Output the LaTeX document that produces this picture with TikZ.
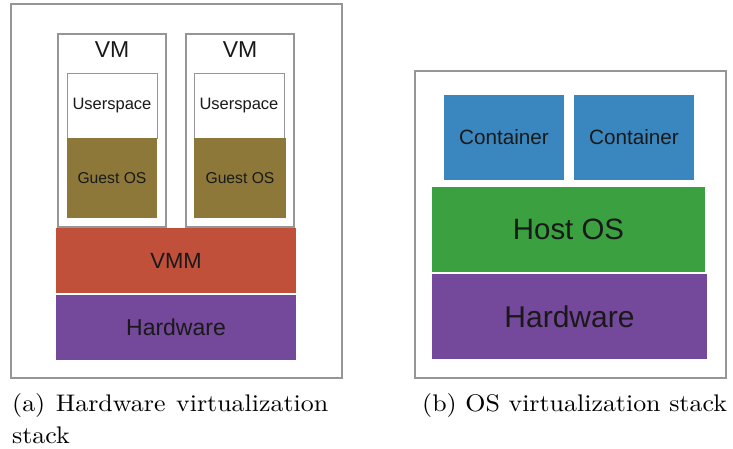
\documentclass[tikz,border=0pt]{standalone}
\usepackage{fontspec}
\setsansfont{Liberation Sans}
\newfontfamily\capfont{lmroman10-regular.otf}[FakeStretch=1.08]
\usepackage{tikz}
\usepackage{xcolor}

\definecolor{framegray}{RGB}{150,150,150}
\definecolor{guestolive}{RGB}{141,120,58}
\definecolor{vmmred}{RGB}{192,80,58}
\definecolor{hwpurple}{RGB}{116,72,154}
\definecolor{contblue}{RGB}{58,134,190}
\definecolor{hostgreen}{RGB}{58,160,64}

\tikzset{
	frame/.style={draw=framegray, line width=1.2pt, inner sep=0pt},
	layer/.style={inner sep=0pt, font=\sffamily, text=black!90},
	userbox/.style={layer, draw=framegray, line width=0.8pt, fill=white, minimum height=65pt},
	guestbox/.style={layer, fill=guestolive, minimum height=80pt},
	caption/.style={inner sep=0pt, font=\capfont\fontsize{24}{32}\selectfont}
}

\begin{document}
\begin{tikzpicture}[x=1pt,y=-1pt]
	\useasboundingbox (0,0) rectangle (733,449);
	
	% Draw outer frames
	\node[frame, minimum width=331pt, minimum height=374pt] (hwframe) at (176.5,191) {};
	\node[frame, minimum width=311pt, minimum height=307pt] (osframe) at (570.5,224.5) {};
	
	% Draw nodes, hardware virtualization
	\node[frame, minimum width=108pt, minimum height=193pt] (vmA) at (112,130.5) {};
	\node[frame, minimum width=108pt, minimum height=193pt] (vmB) at (240,130.5) {};
	\node[layer, font=\sffamily\fontsize{23}{26}\selectfont] (vmAlabel) at (112,50) {VM};
	\node[layer, font=\sffamily\fontsize{23}{26}\selectfont] (vmBlabel) at (240,50) {VM};
	\node[userbox, minimum width=90pt, font=\sffamily\fontsize{16.5}{19}\selectfont] (userA) at (112,105.5) {Userspace};
	\node[userbox, minimum width=90pt, font=\sffamily\fontsize{16.5}{19}\selectfont] (userB) at (239,105.5) {Userspace};
	\node[guestbox, minimum width=90pt, font=\sffamily\fontsize{15.7}{18}\selectfont] (guestA) at (112,178) {Guest OS};
	\node[guestbox, minimum width=92pt, font=\sffamily\fontsize{15.7}{18}\selectfont] (guestB) at (240,178) {Guest OS};
	\node[layer, fill=vmmred, minimum width=240pt, minimum height=65pt, font=\sffamily\fontsize{22}{25}\selectfont] (vmm) at (176,260.5) {VMM};
	\node[layer, fill=hwpurple, minimum width=240pt, minimum height=65pt, font=\sffamily\fontsize{23}{26}\selectfont] (hwA) at (176,327.5) {Hardware};
	
	% Draw nodes, OS virtualization
	\node[layer, fill=contblue, minimum width=120pt, minimum height=85pt, font=\sffamily\fontsize{20.7}{24}\selectfont] (contA) at (504,137.5) {Container};
	\node[layer, fill=contblue, minimum width=120pt, minimum height=85pt, font=\sffamily\fontsize{20.7}{24}\selectfont] (contB) at (634,137.5) {Container};
	\node[layer, fill=hostgreen, minimum width=273pt, minimum height=85pt, font=\sffamily\fontsize{29.4}{33}\selectfont] (hostos) at (568.5,229.5) {Host OS};
	\node[layer, fill=hwpurple, minimum width=275pt, minimum height=85pt, font=\sffamily\fontsize{30}{34}\selectfont] (hwB) at (569.5,316.5) {Hardware};
	
	% Captions
	\node[caption, anchor=north west, text width=316pt, align=justify] (capA) at (12,393) {\hyphenpenalty=10000 (a) Hardware virtualization stack};
	\node[caption, anchor=north west] (capB) at (422,393) {(b) OS virtualization stack};
	
\end{tikzpicture}
\end{document}
